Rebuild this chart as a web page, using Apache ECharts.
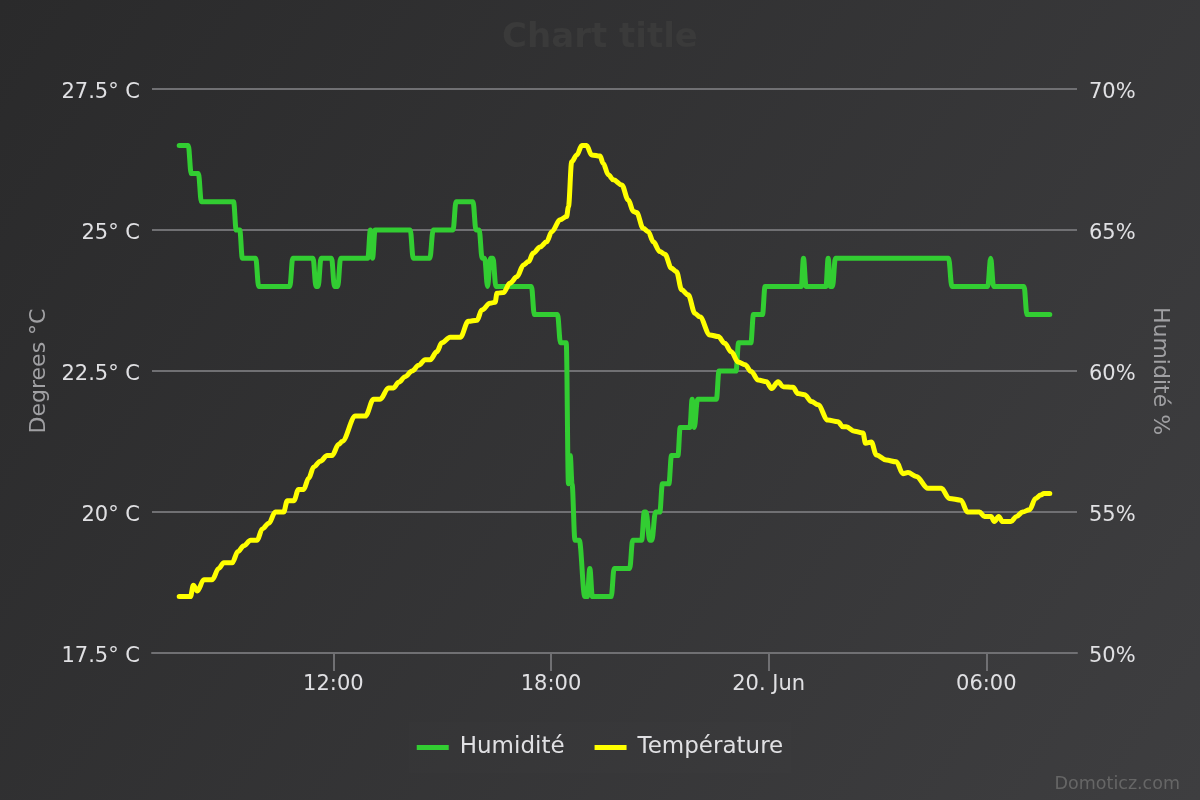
<!DOCTYPE html>
<html>
<head>
<meta charset="utf-8">
<title>Humidité / Température</title>
<script src="https://cdn.jsdelivr.net/npm/echarts@6/dist/echarts.min.js"></script>
<style>
  html, body { margin: 0; padding: 0; background: #2a2a2b; }
  #chart { width: 1200px; height: 800px; }
</style>
</head>
<body>
<div id="chart"></div>
<script type="text/javascript">
// heures depuis le 19 juin 00:00
var humTimes = [7.75, 8.00, 8.08, 8.28, 8.36, 9.25, 9.32, 9.42, 9.49, 9.86, 9.94, 10.80, 10.88, 11.44,
  11.52, 11.58, 11.66, 11.95, 12.03, 12.12, 12.20, 12.95, 13.02, 13.08, 13.15, 14.12, 14.20, 14.66,
  14.75, 15.30, 15.38, 15.85, 15.93, 16.02, 16.10, 16.17, 16.25, 16.33, 16.40, 16.48, 17.46, 17.54,
  18.18, 18.26, 18.42, 18.48, 18.53, 18.58, 18.66, 18.78, 18.93, 19.00, 19.07, 19.14, 19.66, 19.74,
  20.17, 20.25, 20.50, 20.57, 20.62, 20.72, 20.78, 20.88, 21.00, 21.07, 21.25, 21.32, 21.50, 21.56,
  21.83, 21.89, 21.95, 22.04, 22.56, 22.63, 23.10, 23.17, 23.51, 23.58, 23.83, 23.90, 24.90, 24.96,
  25.03, 25.58, 25.64, 25.70, 25.76, 25.84, 28.96, 29.05, 30.04, 30.12, 30.20, 31.04, 31.12, 31.75];
var humValues = [68, 68, 67, 67, 66, 66, 65, 65, 64, 64, 63, 63, 64, 64,
  63, 63, 64, 64, 63, 63, 64, 64, 65, 64, 65, 65, 64, 64,
  65, 65, 66, 66, 65, 65, 64, 64, 63, 64, 64, 63, 63, 62,
  62, 61, 61, 56, 57, 56, 54, 54, 52, 52, 53, 52, 52, 53,
  53, 54, 54, 55, 55, 54, 54, 55, 55, 56, 56, 57, 57, 58,
  58, 59, 58, 59, 59, 60, 60, 61, 61, 62, 62, 63, 63, 64,
  63, 63, 64, 63, 63, 64, 64, 63, 63, 64, 63, 63, 62, 62];

var tempTimes = [7.75, 8.06, 8.14, 8.25, 8.43, 8.66, 8.84, 8.98, 9.21, 9.37, 9.53, 9.72, 9.90, 10.04,
  10.22, 10.40, 10.63, 10.73, 10.91, 11.04, 11.18, 11.32, 11.46, 11.64, 11.83, 11.96, 12.15, 12.24,
  12.61, 12.88, 13.11, 13.29, 13.52, 13.66, 13.80, 13.98, 14.17, 14.35, 14.53, 14.67, 14.85, 14.99,
  15.22, 15.50, 15.72, 15.96, 16.09, 16.32, 16.46, 16.51, 16.69, 16.87, 17.06, 17.24, 17.38, 17.51,
  17.70, 17.88, 18.02, 18.25, 18.43, 18.48, 18.57, 18.71, 18.85, 18.98, 19.12, 19.35, 19.44, 19.58,
  19.72, 19.95, 20.13, 20.27, 20.36, 20.54, 20.68, 20.82, 21.00, 21.14, 21.32, 21.46, 21.60, 21.78,
  21.97, 22.10, 22.38, 22.61, 22.79, 22.97, 23.16, 23.35, 23.52, 23.71, 23.94, 24.08, 24.26, 24.40,
  24.67, 24.81, 24.99, 25.18, 25.36, 25.63, 25.91, 26.05, 26.14, 26.37, 26.60, 26.67, 26.83, 26.97,
  27.24, 27.52, 27.70, 27.84, 28.07, 28.39, 28.76, 28.98, 29.30, 29.48, 29.81, 29.95, 30.13, 30.22,
  30.34, 30.45, 30.68, 30.83, 31.00, 31.19, 31.36, 31.50, 31.59, 31.75];
var tempValues = [18.5, 18.5, 18.7, 18.6, 18.8, 18.8, 19.0, 19.1, 19.1, 19.3, 19.4, 19.5, 19.5, 19.7,
  19.8, 20.0, 20.0, 20.2, 20.2, 20.4, 20.4, 20.6, 20.8, 20.9, 21.0, 21.0, 21.2, 21.25,
  21.7, 21.7, 22.0, 22.0, 22.2, 22.2, 22.3, 22.4, 22.5, 22.6, 22.7, 22.7, 22.84, 23.0,
  23.1, 23.1, 23.38, 23.4, 23.58, 23.7, 23.72, 23.88, 23.89, 24.06, 24.17, 24.38, 24.44, 24.59,
  24.7, 24.79, 24.97, 25.18, 25.24, 25.41, 26.21, 26.33, 26.5, 26.5, 26.33, 26.31, 26.18, 25.98,
  25.89, 25.8, 25.53, 25.33, 25.31, 25.03, 24.97, 24.79, 24.62, 24.57, 24.32, 24.26, 23.94, 23.85,
  23.52, 23.46, 23.14, 23.11, 22.99, 22.84, 22.66, 22.61, 22.49, 22.34, 22.31, 22.19, 22.31, 22.22,
  22.21, 22.1, 22.08, 21.96, 21.9, 21.63, 21.6, 21.51, 21.51, 21.43, 21.4, 21.22, 21.24, 21.01,
  20.92, 20.89, 20.68, 20.7, 20.63, 20.42, 20.42, 20.24, 20.21, 20.0, 20.0, 19.92, 19.92, 19.83,
  19.92, 19.83, 19.83, 19.92, 20.0, 20.04, 20.24, 20.3, 20.33, 20.33];

var xTicks = [12, 18, 24, 30];
var xTickLabels = ['12:00', '18:00', '20. Jun', '06:00'];
var seriesNames = ['Humidité', 'Température'];
var seriesColors = ['#32cd32', '#ffff00'];

function zip(a, b) {
  var out = [];
  for (var i = 0; i < a.length; i++) out.push([a[i], b[i]]);
  return out;
}

var font = 'DejaVu Sans';
var myChart = echarts.init(document.getElementById('chart'));
myChart.setOption({
  animation: false,
  backgroundColor: {
    type: 'linear', x: 0, y: 0, x2: 1, y2: 1,
    colorStops: [{offset: 0, color: '#2a2a2b'}, {offset: 1, color: '#3e3e40'}]
  },
  color: seriesColors,
  title: {
    text: 'Chart title',
    left: 'center',
    top: 16,
    textStyle: {color: '#3a3a3a', fontSize: 34, fontWeight: 'bold', fontFamily: font}
  },
  legend: {
    data: seriesNames,
    left: 'center',
    top: 722,
    icon: 'rect',
    itemWidth: 32,
    itemHeight: 5,
    itemGap: 30,
    padding: [14, 8],
    backgroundColor: 'rgba(255,255,255,0.008)',
    textStyle: {color: '#e0e0e3', fontSize: 23, fontFamily: font, padding: [0, 0, 0, 6]}
  },
  graphic: [{
    type: 'text',
    right: 20,
    bottom: 7,
    style: {text: 'Domoticz.com', fill: '#666666', fontSize: 17.5, fontFamily: font}
  }],
  grid: {left: 152, right: 123, top: 89, bottom: 147, containLabel: false},
  xAxis: {
    type: 'value',
    min: 7,
    max: 32.5,
    splitLine: {show: false},
    axisLine: {lineStyle: {color: '#707073', width: 2}},
    axisTick: {customValues: xTicks, length: 18, lineStyle: {color: '#707073', width: 2}},
    axisLabel: {
      customValues: xTicks,
      color: '#e0e0e3', fontSize: 21, fontFamily: font, margin: 21,
      formatter: function (v) { return xTickLabels[xTicks.indexOf(v)]; }
    }
  },
  yAxis: [{
    type: 'value',
    min: 17.5, max: 27.5, interval: 2.5,
    name: 'Degrees °C',
    nameLocation: 'middle',
    nameGap: 100,
    nameRotate: 90,
    nameTextStyle: {color: '#a0a0a3', fontSize: 22, fontFamily: font},
    axisLine: {show: false},
    axisTick: {show: false},
    splitLine: {lineStyle: {color: '#707073', width: 2}},
    axisLabel: {
      color: '#e0e0e3', fontSize: 21, fontFamily: font, margin: 12,
      verticalAlign: 'top', lineHeight: 8,
      formatter: function (v) { return v + '° C'; }
    }
  }, {
    type: 'value',
    min: 50, max: 70, interval: 5,
    position: 'right',
    name: 'Humidité %',
    nameLocation: 'middle',
    nameGap: 72,
    nameRotate: -90,
    nameTextStyle: {color: '#a0a0a3', fontSize: 22, fontFamily: font},
    axisLine: {show: false},
    axisTick: {show: false},
    splitLine: {show: false},
    axisLabel: {
      color: '#e0e0e3', fontSize: 21, fontFamily: font, margin: 12,
      verticalAlign: 'top', lineHeight: 8,
      formatter: function (v) { return v + '%'; }
    }
  }],
  series: [{
    name: seriesNames[0],
    type: 'line',
    yAxisIndex: 1,
    data: zip(humTimes, humValues),
    showSymbol: false,
    smooth: 0.35,
    smoothMonotone: 'x',
    lineStyle: {width: 5, cap: 'round', join: 'round'}
  }, {
    name: seriesNames[1],
    type: 'line',
    yAxisIndex: 0,
    data: zip(tempTimes, tempValues),
    showSymbol: false,
    smooth: 0.35,
    smoothMonotone: 'x',
    lineStyle: {width: 5, cap: 'round', join: 'round'}
  }]
});
</script>
</body>
</html>
